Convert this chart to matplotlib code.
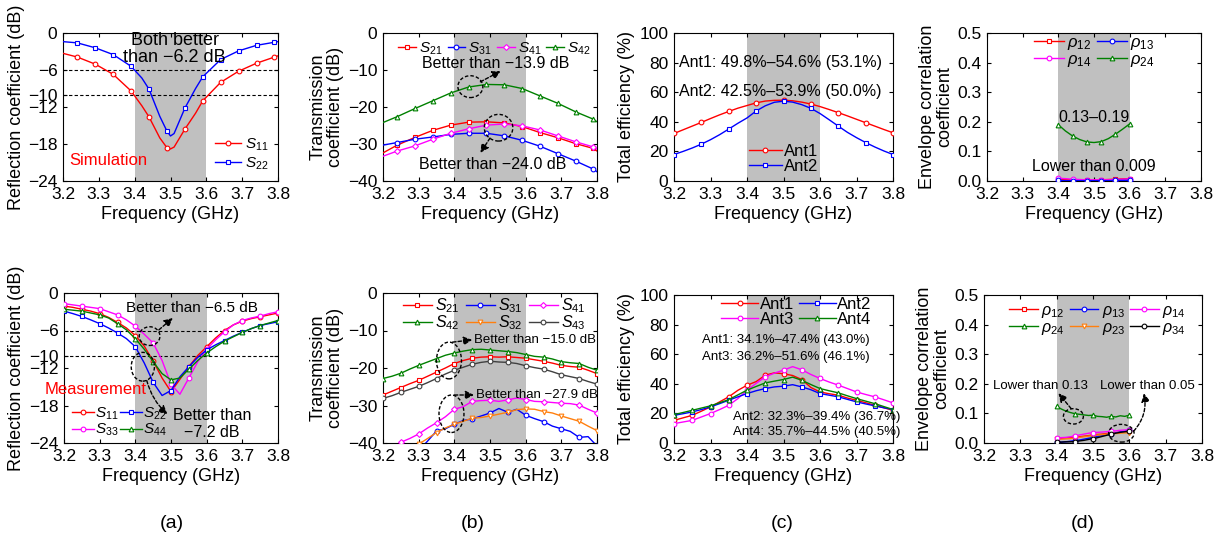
import matplotlib
matplotlib.use("Agg")
import matplotlib.pyplot as plt
from matplotlib.patches import Ellipse

plt.rcParams['font.family'] = ['Liberation Sans', 'DejaVu Sans']
plt.rcParams['mathtext.fontset'] = 'custom'
plt.rcParams['mathtext.it'] = 'Liberation Sans:italic'
plt.rcParams['mathtext.rm'] = 'Liberation Sans'

# ---------------- data ----------------
# (a) top: simulated reflection
f_sim_a = [3.20, 3.24, 3.29, 3.34, 3.39, 3.42, 3.44, 3.47, 3.49, 3.50, 3.51, 3.54, 3.57, 3.59,
           3.64, 3.69, 3.74, 3.79, 3.80]
s11_sim = [-3.3, -3.9, -5.05, -6.7, -9.4, -11.8, -13.6, -17.0, -18.6, -18.8, -18.5, -15.6, -13.0, -11.0,
           -8.0, -6.2, -4.9, -3.9, -3.7]
s22_sim = [-1.4, -1.6, -2.4, -3.5, -5.4, -7.3, -9.1, -13.5, -15.9, -16.7, -16.3, -12.2, -9.0, -7.1,
           -4.3, -2.9, -2.0, -1.5, -1.4]
mk_sim_a = [1, 2, 3, 4, 6, 8, 11, 13, 14, 15, 16, 17]

# (b) top: simulated transmission
f_sim_b = [3.20, 3.24, 3.29, 3.34, 3.39, 3.44, 3.49, 3.54, 3.59, 3.64, 3.69, 3.74, 3.79, 3.80]
s21_sim = [-32.4, -30.3, -28.2, -26.3, -24.9, -24.1, -24.0, -24.3, -25.3, -26.9, -28.3, -29.9, -31.2, -31.9]
s31_sim = [-30.3, -29.6, -28.7, -28.1, -27.4, -27.1, -27.1, -27.8, -29.0, -30.6, -32.6, -34.6, -36.8, -37.5]
s41_sim = [-33.3, -31.9, -30.5, -28.7, -27.1, -25.9, -24.9, -24.6, -25.1, -26.2, -27.8, -29.4, -30.8, -31.4]
s42_sim = [-24.2, -22.6, -20.4, -18.3, -16.2, -14.6, -13.9, -14.0, -15.0, -17.0, -19.0, -21.3, -23.3, -24.0]
mk_sim_b = list(range(1, 13))

# (c) top: simulated efficiency
f_sim_c = [3.200, 3.225, 3.250, 3.275, 3.300, 3.325, 3.350, 3.375, 3.400, 3.425, 3.450, 3.475, 3.500,
           3.525, 3.550, 3.575, 3.600, 3.625, 3.650, 3.675, 3.700, 3.725, 3.750, 3.775, 3.800]
eff1_sim = [32.1, 34.6, 37.1, 39.6, 42.2, 44.7, 47.0, 49.2, 51.0, 52.8, 54.0, 54.5, 54.6,
            54.2, 53.3, 52.0, 50.3, 48.3, 46.2, 44.0, 41.7, 39.4, 37.1, 34.8, 32.6]
eff2_sim = [17.9, 20.0, 22.3, 24.9, 27.9, 31.3, 35.1, 39.0, 42.6, 47.3, 50.8, 53.2, 53.9,
            53.3, 51.6, 49.1, 45.6, 41.4, 37.1, 32.9, 29.3, 26.0, 23.0, 20.3, 17.9]
mk_sim_c = [0, 3, 6, 9, 12, 15, 18, 21, 24]

# (d) top: simulated ECC
f_sim_d = [3.40, 3.42, 3.44, 3.46, 3.48, 3.50, 3.52, 3.54, 3.56, 3.58, 3.60]
rho12_sim = [0.006, 0.005, 0.004, 0.004, 0.003, 0.003, 0.004, 0.005, 0.006, 0.007, 0.008]
rho13_sim = [0.002, 0.001, 0.001, 0.001, 0.001, 0.001, 0.001, 0.001, 0.002, 0.002, 0.002]
rho14_sim = [0.009, 0.008, 0.006, 0.005, 0.004, 0.004, 0.004, 0.004, 0.005, 0.006, 0.007]
rho24_sim = [0.190, 0.169, 0.152, 0.140, 0.132, 0.130, 0.133, 0.143, 0.158, 0.175, 0.193]
mk_sim_d = [0, 2, 4, 6, 8, 10]

# measured frequency grid
f_meas = [3.200, 3.225, 3.250, 3.275, 3.300, 3.325, 3.350, 3.375, 3.400, 3.425, 3.450, 3.475, 3.500,
          3.525, 3.550, 3.575, 3.600, 3.625, 3.650, 3.675, 3.700, 3.725, 3.750, 3.775, 3.800]
mk_meas = [0, 2, 4, 6, 8, 10, 12, 14, 16, 18, 20, 22, 24]

# (a) bottom: measured reflection
s11_meas = [-2.1, -2.3, -2.6, -2.9, -3.3, -3.9, -4.7, -5.6, -6.8, -8.5, -10.9, -13.6, -15.8,
            -13.8, -11.8, -10.0, -8.6, -7.2, -6.0, -5.1, -4.5, -4.1, -3.8, -3.5, -3.2]
s22_meas = [-2.9, -3.3, -3.75, -4.3, -4.9, -5.6, -6.4, -7.3, -8.6, -11.2, -14.3, -16.4, -15.6,
            -13.4, -11.8, -10.3, -9.1, -8.3, -7.6, -6.9, -6.3, -5.7, -5.2, -4.9, -4.6]
s33_meas = [-1.7, -1.9, -2.1, -2.3, -2.5, -3.0, -3.5, -4.3, -5.3, -6.6, -8.0, -10.8, -14.6,
            -16.2, -13.6, -11.0, -9.0, -7.5, -6.2, -5.1, -4.4, -4.0, -3.7, -3.3, -3.0]
s44_meas = [-2.6, -2.75, -2.9, -3.2, -3.5, -4.0, -4.9, -5.9, -7.3, -9.0, -11.0, -12.9, -13.9,
            -13.6, -12.2, -10.8, -9.6, -8.6, -7.7, -7.0, -6.3, -5.7, -5.2, -4.8, -4.4]

# (b) bottom: measured transmission
s21_meas = [-27.2, -26.2, -25.2, -24.2, -23.3, -22.2, -21.1, -20.0, -18.8, -18.0, -17.4, -17.1, -17.0,
            -17.1, -17.0, -17.2, -17.4, -17.8, -18.2, -18.7, -19.3, -19.6, -19.8, -20.6, -21.5]
s31_meas = [-46.0, -45.0, -44.0, -43.0, -42.0, -39.5, -36.8, -36.2, -35.0, -34.0, -33.6, -32.8, -32.0,
            -30.8, -31.8, -31.0, -32.6, -33.5, -34.3, -35.5, -36.2, -36.9, -38.5, -38.3, -40.8]
s41_meas = [-43.0, -41.5, -39.8, -38.8, -37.6, -36.0, -34.6, -33.0, -31.0, -30.3, -28.9, -28.7, -28.6,
            -28.9, -28.5, -28.0, -28.4, -28.9, -29.0, -29.2, -29.4, -29.5, -29.9, -31.0, -32.0]
s42_meas = [-22.8, -22.2, -21.4, -20.3, -19.3, -18.4, -17.5, -16.6, -16.0, -15.5, -15.1, -15.0, -15.2,
            -15.4, -15.6, -15.9, -16.4, -16.9, -17.1, -17.6, -18.3, -18.6, -18.8, -19.8, -20.6]
s32_meas = [-46.0, -45.0, -44.0, -42.5, -40.3, -38.8, -37.2, -36.0, -35.0, -34.2, -33.4, -33.2, -32.8,
            -32.3, -31.8, -31.1, -30.9, -31.0, -31.6, -32.0, -32.8, -33.5, -34.2, -35.5, -36.7]
s43_meas = [-28.1, -27.4, -26.5, -25.7, -24.9, -23.9, -22.8, -21.6, -20.6, -19.8, -19.0, -18.5, -18.2,
            -18.4, -18.5, -18.8, -19.4, -19.9, -20.3, -21.0, -21.8, -22.3, -22.8, -23.6, -24.3]

# (c) bottom: measured efficiency
eff1_meas = [15.3, 17.0, 18.7, 21.5, 24.4, 27.8, 31.2, 35.6, 39.0, 41.5, 45.8, 47.4, 46.8,
             45.6, 42.9, 37.5, 34.5, 33.3, 32.3, 30.4, 28.9, 27.2, 25.5, 23.8, 22.1]
eff2_meas = [18.7, 19.8, 21.0, 22.6, 24.4, 26.6, 28.9, 31.2, 33.4, 35.3, 36.8, 37.9, 38.4,
             39.4, 37.9, 36.0, 33.4, 32.3, 31.2, 29.5, 27.8, 26.4, 25.1, 23.8, 22.6]
eff3_meas = [13.1, 14.2, 15.3, 17.6, 19.9, 22.6, 25.5, 30.0, 35.7, 40.3, 44.7, 47.2, 49.2,
             51.6, 49.5, 46.3, 43.6, 41.2, 39.1, 36.8, 34.5, 32.8, 31.2, 29.2, 27.1]
eff4_meas = [19.2, 20.6, 22.1, 23.6, 25.1, 27.2, 29.3, 32.5, 35.7, 38.2, 40.6, 41.8, 42.9,
             44.5, 42.4, 39.5, 36.8, 35.3, 33.9, 31.9, 30.0, 28.3, 26.6, 24.6, 22.6]

# (d) bottom: measured ECC
f_meas_d = [3.4000, 3.4125, 3.4250, 3.4375, 3.4500, 3.4625, 3.4750, 3.4875, 3.5000,
            3.5125, 3.5250, 3.5375, 3.5500, 3.5625, 3.5750, 3.5875, 3.6000]
rho12_meas = [0.015, 0.016, 0.017, 0.018, 0.019, 0.021, 0.023, 0.025, 0.027, 0.029, 0.030, 0.032, 0.034, 0.035, 0.037, 0.038, 0.040]
rho13_meas = [0.002, 0.003, 0.004, 0.006, 0.008, 0.010, 0.013, 0.016, 0.019, 0.022, 0.025, 0.028, 0.031, 0.034, 0.037, 0.040, 0.044]
rho14_meas = [0.017, 0.018, 0.019, 0.021, 0.024, 0.027, 0.030, 0.033, 0.035, 0.036, 0.037, 0.038, 0.040, 0.041, 0.043, 0.044, 0.045]
rho24_meas = [0.124, 0.115, 0.108, 0.103, 0.099, 0.097, 0.095, 0.093, 0.094, 0.090, 0.089, 0.087, 0.090, 0.088, 0.092, 0.090, 0.094]
rho23_meas = [0.012, 0.013, 0.014, 0.015, 0.017, 0.019, 0.021, 0.023, 0.025, 0.027, 0.028, 0.030, 0.031, 0.032, 0.033, 0.034, 0.035]
rho34_meas = [0.003, 0.003, 0.004, 0.004, 0.005, 0.007, 0.009, 0.012, 0.015, 0.018, 0.022, 0.026, 0.030, 0.033, 0.036, 0.038, 0.040]
mk_meas_d = [0, 4, 8, 12, 16]

freq_ticks = [3.2, 3.3, 3.4, 3.5, 3.6, 3.7, 3.8]
band = (3.4, 3.6)

RED = '#ff0000'
BLUE = '#0000ff'
MAG = '#ff00ff'
GRN = '#008000'
ORG = '#ff7f0e'
GRY = '#404040'
SHADE = '#c0c0c0'

TICK_FS = 12.5
LAB_FS = 13
LEG_FS = 11

# ---------------- figure ----------------
fig = plt.figure(figsize=(12.22, 5.34), dpi=100)
W, H = 1222, 534


def make_ax(x0, x1, y0, y1):
    return fig.add_axes([x0 / W, 1 - y1 / H, (x1 - x0) / W, (y1 - y0) / H])


def style(ax, ylim, yticks, ylabel, yticklabels=None, label_x=None):
    ax.axvspan(band[0], band[1], color=SHADE, lw=0, zorder=0)
    ax.set_xlim(3.2, 3.8)
    ax.set_ylim(*ylim)
    ax.set_xticks(freq_ticks)
    ax.set_xticklabels([f"{v:.1f}" for v in freq_ticks])
    ax.set_yticks(yticks)
    if yticklabels is not None:
        ax.set_yticklabels(yticklabels)
    ax.tick_params(direction='in', top=True, right=True, labelsize=TICK_FS, length=3, width=0.8, pad=4)
    ax.set_xlabel('Frequency (GHz)', fontsize=LAB_FS, labelpad=3)
    ax.set_ylabel(ylabel, fontsize=LAB_FS, labelpad=3, linespacing=1.0)
    if label_x is not None:
        ax.yaxis.set_label_coords(label_x, 0.5)
    for s in ax.spines.values():
        s.set_linewidth(0.8)


def line(ax, x, y, color, marker, label, mk, ms=3.4):
    ax.plot(x, y, color=color, lw=1.0, marker=marker, markevery=mk, ms=ms,
            mfc='white', mec=color, mew=0.8, label=label, zorder=3)


def ell(ax, xc, yc, w, h):
    ax.add_patch(Ellipse((xc, yc), w, h, fill=False, ls=(0, (2.5, 1.5)), lw=1.0, ec='black',
                         zorder=5, clip_on=False))


def arrow(ax, xy_from, xy_to, rad=0.0):
    ax.annotate('', xy=xy_to, xytext=xy_from,
                arrowprops=dict(arrowstyle='-|>,head_length=0.5,head_width=0.25', ls=(0, (2.5, 1.5)),
                                lw=1.0, color='black', connectionstyle=f'arc3,rad={rad}',
                                shrinkA=0, shrinkB=0),
                annotation_clip=False, zorder=6)


db_labels_a = ['0', '\u22126', '\u221210', '\u221212', '\u221218', '\u221224']
db_ticks_a = [0, -6, -10, -12, -18, -24]
tx_ticks = [0, -10, -20, -30, -40]
tx_labels = ['0', '\u221210', '\u221220', '\u221230', '\u221240']

# ---- (a) top
ax = make_ax(63, 278, 33, 181)
style(ax, (-24, 0), db_ticks_a, 'Reflection coefficient (dB)', db_labels_a, label_x=-0.177)
ax.axhline(-6, color='black', ls=(0, (3, 2)), lw=0.8, zorder=2)
ax.axhline(-10, color='black', ls=(0, (3, 2)), lw=0.8, zorder=2)
line(ax, f_sim_a, s11_sim, RED, 'o', '$S_{11}$', mk_sim_a)
line(ax, f_sim_a, s22_sim, BLUE, 's', '$S_{22}$', mk_sim_a)
ax.text(3.512, -2.55, 'Both better\nthan \u22126.2 dB', ha='center', va='center', fontsize=13,
        linespacing=1.0)
ax.text(3.218, -20.6, 'Simulation', color=RED, fontsize=12, ha='left', va='center')
ax.legend(loc='lower right', fontsize=LEG_FS, frameon=False, handlelength=1.7, handletextpad=0.3,
          labelspacing=0.15, borderaxespad=0.2, bbox_to_anchor=(1.0, 0.0))

# ---- (b) top
ax = make_ax(383, 597, 33, 181)
style(ax, (-40, 0), tx_ticks, 'Transmission\ncoefficient (dB)', tx_labels)
line(ax, f_sim_b, s21_sim, RED, 's', '$S_{21}$', mk_sim_b)
line(ax, f_sim_b, s31_sim, BLUE, 'o', '$S_{31}$', mk_sim_b)
line(ax, f_sim_b, s41_sim, MAG, 'D', '$S_{41}$', mk_sim_b, ms=3.0)
line(ax, f_sim_b, s42_sim, GRN, '^', '$S_{42}$', mk_sim_b)
ax.legend(loc='upper center', ncol=4, fontsize=LEG_FS, frameon=False, handlelength=1.15,
          handletextpad=0.2, columnspacing=0.35, borderaxespad=0.1, bbox_to_anchor=(0.52, 1.0))
ax.text(3.31, -8.2, 'Better than \u221213.9 dB', fontsize=11.5, ha='left', va='center')
ell(ax, 3.445, -14.5, 0.07, 5.9)
arrow(ax, (3.473, -13.2), (3.53, -10.3))
ax.text(3.30, -35.6, 'Better than \u221224.0 dB', fontsize=11.5, ha='left', va='center')
ell(ax, 3.524, -25.6, 0.08, 7.2)
arrow(ax, (3.50, -28.4), (3.473, -32.4))

# ---- (c) top
ax = make_ax(674, 893, 33, 181)
style(ax, (0, 100), [0, 20, 40, 60, 80, 100], 'Total efficiency (%)')
line(ax, f_sim_c, eff1_sim, RED, 'o', 'Ant1', mk_sim_c)
line(ax, f_sim_c, eff2_sim, BLUE, 's', 'Ant2', mk_sim_c)
ax.text(3.215, 80, 'Ant1: 49.8%\u201354.6% (53.1%)', fontsize=11.5, ha='left', va='center')
ax.text(3.215, 60.5, 'Ant2: 42.5%\u201353.9% (50.0%)', fontsize=11.5, ha='left', va='center')
ax.legend(loc='lower center', fontsize=LEG_FS + 1, frameon=False, handlelength=2.0, handletextpad=0.1,
          labelspacing=0.0, borderaxespad=0.0, bbox_to_anchor=(0.5, 0.005))

# ---- (d) top
ax = make_ax(987, 1201, 33, 181)
style(ax, (0, 0.5), [0.0, 0.1, 0.2, 0.3, 0.4, 0.5], 'Envelope correlation\ncoefficient',
      ['0.0', '0.1', '0.2', '0.3', '0.4', '0.5'])
line(ax, f_sim_d, rho12_sim, RED, 's', r'$\rho_{12}$', mk_sim_d)
line(ax, f_sim_d, rho14_sim, MAG, 'o', r'$\rho_{14}$', mk_sim_d)
line(ax, f_sim_d, rho13_sim, BLUE, 'o', r'$\rho_{13}$', mk_sim_d)
line(ax, f_sim_d, rho24_sim, GRN, '^', r'$\rho_{24}$', mk_sim_d)
ax.text(3.5, 0.216, '0.13\u20130.19', fontsize=11.5, ha='center', va='center')
ax.text(3.5, 0.048, 'Lower than 0.009', fontsize=11.5, ha='center', va='center')
ax.legend(loc='upper center', ncol=2, fontsize=LEG_FS + 1, frameon=False, handlelength=1.8,
          handletextpad=0.2, columnspacing=0.3, labelspacing=0.0, borderaxespad=0.0,
          bbox_to_anchor=(0.5, 1.03))

# ---- (a) bottom
ax = make_ax(64, 278, 293, 443)
style(ax, (-24, 0), db_ticks_a, 'Reflection coefficient (dB)', db_labels_a, label_x=-0.18)
ax.axhline(-6, color='black', ls=(0, (3, 2)), lw=0.8, zorder=2)
ax.axhline(-10, color='black', ls=(0, (3, 2)), lw=0.8, zorder=2)
line(ax, f_meas, s11_meas, RED, 'o', '$S_{11}$', mk_meas)
line(ax, f_meas, s33_meas, MAG, 'o', '$S_{33}$', mk_meas)
line(ax, f_meas, s22_meas, BLUE, 's', '$S_{22}$', mk_meas)
line(ax, f_meas, s44_meas, GRN, '^', '$S_{44}$', mk_meas)
ax.text(3.375, -2.4, 'Better than \u22126.5 dB', fontsize=11, ha='left', va='center')
ell(ax, 3.44, -6.9, 0.058, 3.0)
arrow(ax, (3.466, -5.9), (3.505, -4.0))
ell(ax, 3.421, -11.8, 0.065, 4.6)
arrow(ax, (3.432, -14.0), (3.49, -19.4), rad=0.15)
ax.text(3.615, -20.9, 'Better than\n\u22127.2 dB', fontsize=11.5, ha='center', va='center',
        linespacing=1.15)
ax.text(3.145, -15.5, 'Measurement', color=RED, fontsize=12, ha='left', va='center', clip_on=False)
ax.legend(loc='lower left', ncol=2, fontsize=LEG_FS, frameon=False, handlelength=1.4,
          handletextpad=0.1, columnspacing=0.1, labelspacing=0.0, borderaxespad=0.0,
          bbox_to_anchor=(0.01, -0.01))

# ---- (b) bottom
ax = make_ax(383, 597, 293, 443)
style(ax, (-40, 0), tx_ticks, 'Transmission\ncoefficient (dB)', tx_labels)
line(ax, f_meas, s21_meas, RED, 's', '$S_{21}$', mk_meas)
line(ax, f_meas, s42_meas, GRN, '^', '$S_{42}$', mk_meas)
line(ax, f_meas, s31_meas, BLUE, 'o', '$S_{31}$', mk_meas)
line(ax, f_meas, s32_meas, ORG, 'v', '$S_{32}$', mk_meas)
line(ax, f_meas, s41_meas, MAG, 'D', '$S_{41}$', mk_meas, ms=3.0)
line(ax, f_meas, s43_meas, GRY, 'o', '$S_{43}$', mk_meas)
ax.legend(loc='upper center', ncol=3, fontsize=LEG_FS + 0.5, frameon=False, handlelength=1.8,
          handletextpad=0.2, columnspacing=0.4, labelspacing=-0.1, borderaxespad=0.0,
          bbox_to_anchor=(0.52, 1.02))
ell(ax, 3.385, -18.0, 0.07, 9.8)
arrow(ax, (3.395, -13.1), (3.45, -12.5))
ax.text(3.455, -12.6, 'Better than \u221215.0 dB', fontsize=9.5, ha='left', va='center')
ell(ax, 3.392, -32.2, 0.07, 10.0)
arrow(ax, (3.40, -27.2), (3.455, -27.2))
ax.text(3.46, -27.2, 'Better than \u221227.9 dB', fontsize=9.5, ha='left', va='center')

# ---- (c) bottom
ax = make_ax(674, 893, 295, 443)
style(ax, (0, 100), [0, 20, 40, 60, 80, 100], 'Total efficiency (%)')
line(ax, f_meas, eff1_meas, RED, 'o', 'Ant1', mk_meas)
line(ax, f_meas, eff3_meas, MAG, 'o', 'Ant3', mk_meas)
line(ax, f_meas, eff2_meas, BLUE, 's', 'Ant2', mk_meas)
line(ax, f_meas, eff4_meas, GRN, '^', 'Ant4', mk_meas)
ax.legend(loc='upper center', ncol=2, fontsize=LEG_FS + 1, frameon=False, handlelength=2.2,
          handletextpad=0.1, columnspacing=0.3, labelspacing=0.0, borderaxespad=0.0,
          bbox_to_anchor=(0.56, 1.03))
ax.text(3.505, 69.5, 'Ant1: 34.1%\u201347.4% (43.0%)', fontsize=9.5, ha='center', va='center')
ax.text(3.505, 58.3, 'Ant3: 36.2%\u201351.6% (46.1%)', fontsize=9.5, ha='center', va='center')
ax.text(3.59, 17.6, 'Ant2: 32.3%\u201339.4% (36.7%)', fontsize=9.5, ha='center', va='center')
ax.text(3.59, 7.4, 'Ant4: 35.7%\u201344.5% (40.5%)', fontsize=9.5, ha='center', va='center')

# ---- (d) bottom
ax = make_ax(984, 1202, 295, 443)
style(ax, (0, 0.5), [0.0, 0.1, 0.2, 0.3, 0.4, 0.5], 'Envelope correlation\ncoefficient',
      ['0.0', '0.1', '0.2', '0.3', '0.4', '0.5'])
line(ax, f_meas_d, rho12_meas, RED, 's', r'$\rho_{12}$', mk_meas_d)
line(ax, f_meas_d, rho24_meas, GRN, '^', r'$\rho_{24}$', mk_meas_d)
line(ax, f_meas_d, rho13_meas, BLUE, 'o', r'$\rho_{13}$', mk_meas_d)
line(ax, f_meas_d, rho23_meas, ORG, 'v', r'$\rho_{23}$', mk_meas_d)
line(ax, f_meas_d, rho14_meas, MAG, 'o', r'$\rho_{14}$', mk_meas_d)
line(ax, f_meas_d, rho34_meas, 'black', 'o', r'$\rho_{34}$', mk_meas_d)
ax.legend(loc='upper center', ncol=3, fontsize=LEG_FS + 0.5, frameon=False, handlelength=1.8,
          handletextpad=0.2, columnspacing=0.3, labelspacing=0.0, borderaxespad=0.1,
          bbox_to_anchor=(0.52, 1.0))
ax.text(3.225, 0.192, 'Lower than 0.13', fontsize=9.5, ha='left', va='center')
ax.text(3.52, 0.192, 'Lower than 0.05', fontsize=9.5, ha='left', va='center')
ell(ax, 3.446, 0.09, 0.055, 0.052)
arrow(ax, (3.44, 0.116), (3.405, 0.168))
ell(ax, 3.578, 0.033, 0.07, 0.06)
arrow(ax, (3.612, 0.04), (3.64, 0.168), rad=0.25)

# panel labels
for xc, lab in [(172, '(a)'), (473, '(b)'), (782, '(c)'), (1083, '(d)')]:
    fig.text(xc / W, 1 - 524 / H, lab, ha='center', va='center', fontsize=14)

fig.savefig('out.png', dpi=100)
